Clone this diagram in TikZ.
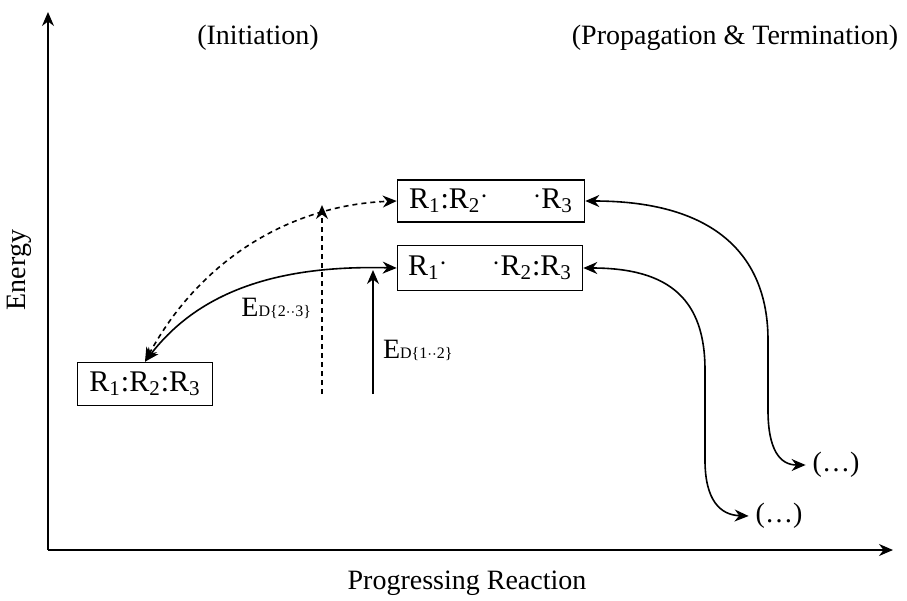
\documentclass[tikz,border=0pt]{standalone}
\usepackage{fontspec}
\setmainfont{Liberation Serif}
\usepackage{tikz}
\usetikzlibrary{arrows.meta}
\newcommand{\Ed}[1]{E{\footnotesize D\{#1\}}}
\newcommand{\rdot}{\raisebox{.35ex}{$\cdot$}}

\begin{document}
\begin{tikzpicture}[x=0.5pt,y=-0.5pt, >={Stealth[length=7pt,width=6pt]},
		statebox/.style={draw, thick, inner sep=0pt, font=\fontsize{15}{17}\selectfont},
		lbl/.style={font=\fontsize{14}{16}\selectfont},
		conn/.style={<->, thick}]
			\useasboundingbox (0,0) rectangle (907,601);
			% axes
			\coordinate (o) at (48,550);
			\coordinate (ytop) at (48,12);
			\coordinate (xend) at (893,550);
			\draw[->, thick] (o) -- (ytop);
			\draw[->, thick] (o) -- (xend);
			\node[lbl, rotate=90] (energy) at (19,270) {Energy};
			\node[lbl] (progress) at (467,583) {Progressing Reaction};
			\node[lbl] (init) at (258,38) {(Initiation)};
			\node[lbl] (prop) at (735,38) {(Propagation \& Termination)};
			% states
			\node[statebox, minimum width=93.5pt, minimum height=21pt] (top) at (491,201) {R\textsubscript{1}:R\textsubscript{2}\rdot\hspace{1.5em}\rdot R\textsubscript{3}};
			\node[statebox, minimum width=92.5pt, minimum height=22.5pt] (mid) at (490,268) {R\textsubscript{1}\rdot\hspace{1.5em}\rdot R\textsubscript{2}:R\textsubscript{3}};
			\node[statebox, minimum width=67.5pt, minimum height=21.5pt] (gnd) at (145,384) {R\textsubscript{1}:R\textsubscript{2}:R\textsubscript{3}};
			\node[lbl] (dots1) at (836,465) {(\dots)};
			\node[lbl] (dots2) at (779,516) {(\dots)};
			% dissociation energies
			\coordinate (d23) at (322,394);
			\coordinate (d23t) at (322,205);
			\coordinate (d12) at (373,394);
			\coordinate (d12t) at (373,270);
			\draw[->, thick, dash pattern=on 2.5pt off 2pt] (d23) -- (d23t);
			\draw[->, thick] (d12) -- (d12t);
			\node[lbl, anchor=east] (ed23) at (318,308) {\Ed{2$\cdot\cdot$3}};
			\node[lbl, anchor=west] (ed12) at (376,350) {\Ed{1$\cdot\cdot$2}};
			% paths
			\draw[conn, dash pattern=on 2.5pt off 2pt] (gnd.north) .. controls (200,260) and (290,205) .. (top.west);
			\draw[conn] (gnd.north) .. controls (200,290) and (280,265) .. (mid.west);
			\draw[conn] (top.east) .. controls (720,201) and (768,260) .. (768,340) -- (768,410) .. controls (768,450) and (780,465) .. (dots1.west);
			\draw[conn] (mid.east) .. controls (670,268) and (705,300) .. (705,370) -- (705,460) .. controls (705,500) and (720,515) .. (dots2.west);
		\end{tikzpicture}
\end{document}
